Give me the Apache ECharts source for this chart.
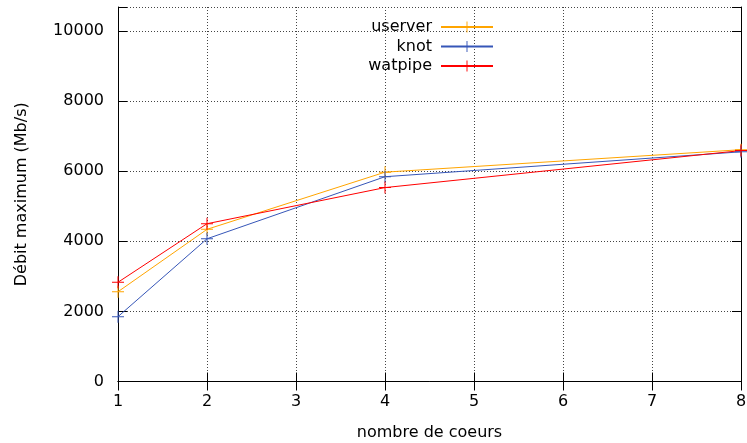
<!DOCTYPE html>
<html>
<head>
<meta charset="utf-8">
<script src="https://cdn.jsdelivr.net/npm/echarts@6/dist/echarts.min.js"></script>
<style>
  html, body { margin: 0; padding: 0; background: #fff; }
  #chart { width: 747px; height: 443px; }
</style>
</head>
<body>
<div id="chart"></div>
<script>
// Maximum throughput vs number of cores, three servers
const cores = [1, 2, 4, 8];
const userver = [2560, 4340, 5970, 6610];
const knot = [1850, 4070, 5840, 6550];
const watpipe = [2830, 4500, 5530, 6585];
const yTicks = [0, 2000, 4000, 6000, 8000, 10000];

const FONT = 'DejaVu Sans';
// "+" point marker built from two thin bars
const plusPath = 'path://M0,5.5 L12,5.5 L12,6.5 L0,6.5 Z M5.5,0 L6.5,0 L6.5,12 L5.5,12 Z';

function pairs(ys) { return cores.map((c, i) => [c, ys[i]]); }

function series(name, ys, color) {
  return {
    name: name, type: 'line', data: pairs(ys), xAxisIndex: 0, yAxisIndex: 0,
    symbol: plusPath, symbolSize: 12, showSymbol: true,
    lineStyle: { color: color, width: 1 }, itemStyle: { color: color },
    emphasis: { disabled: true }, z: 3
  };
}

// One legend per entry so every sample line ends at the same right edge
function legend(name, top) {
  return {
    data: [name], right: 248, top: top, align: 'right', itemWidth: 52, itemHeight: 14,
    textStyle: { fontFamily: FONT, fontSize: 16, color: '#000', padding: [0, 4, 0, 0] }
  };
}

const gridDots = { color: '#444', width: 1, type: [1, 2] };

const option = {
  animation: false,
  backgroundColor: '#fff',
  grid: { left: 118, right: 6, top: 7, bottom: 61.5, outerBoundsMode: 'none' },
  legend: [legend('userver', 14), legend('knot', 33.5), legend('watpipe', 53)],
  xAxis: [
    {
      type: 'value', min: 1, max: 8, interval: 1, position: 'bottom',
      name: 'nombre de coeurs', nameLocation: 'middle', nameGap: 43,
      nameTextStyle: { fontFamily: FONT, fontSize: 16, color: '#000' },
      axisLine: { lineStyle: { color: '#000', width: 1 } },
      axisTick: { inside: true, length: 9, lineStyle: { color: '#000' } },
      axisLabel: { fontFamily: FONT, fontSize: 16, color: '#000', margin: 12 },
      splitLine: { show: true, lineStyle: gridDots }
    },
    {
      type: 'value', min: 1, max: 8, interval: 1, position: 'top',
      axisLine: { lineStyle: { color: '#000', width: 1 } },
      axisTick: { inside: true, length: 9, lineStyle: { color: '#000' } },
      axisLabel: { show: false }, splitLine: { show: false }
    }
  ],
  yAxis: [
    {
      type: 'value', min: 0, max: 10680, interval: 2000, position: 'left',
      name: 'Débit maximum (Mb/s)', nameLocation: 'middle', nameGap: 88,
      nameTextStyle: { fontFamily: FONT, fontSize: 16, color: '#000' },
      axisLine: { show: true, lineStyle: { color: '#000', width: 1 } },
      axisTick: { show: true, inside: true, length: 9, lineStyle: { color: '#000' } },
      axisLabel: {
        fontFamily: FONT, fontSize: 16, color: '#000', margin: 14,
        formatter: v => yTicks.includes(v) ? String(v) : ''
      },
      splitLine: { show: true, lineStyle: gridDots }
    },
    {
      type: 'value', min: 0, max: 10680, interval: 2000, position: 'right',
      axisLine: { show: true, lineStyle: { color: '#000', width: 1 } },
      axisTick: { show: true, inside: true, length: 9, lineStyle: { color: '#000' } },
      axisLabel: { show: false }, splitLine: { show: false }
    }
  ],
  series: [
    series('userver', userver, '#ffa500'),
    series('knot', knot, '#3656b8'),
    series('watpipe', watpipe, '#ff0000')
  ]
};

echarts.init(document.getElementById('chart'), null, { renderer: 'canvas' }).setOption(option);
</script>
</body>
</html>
